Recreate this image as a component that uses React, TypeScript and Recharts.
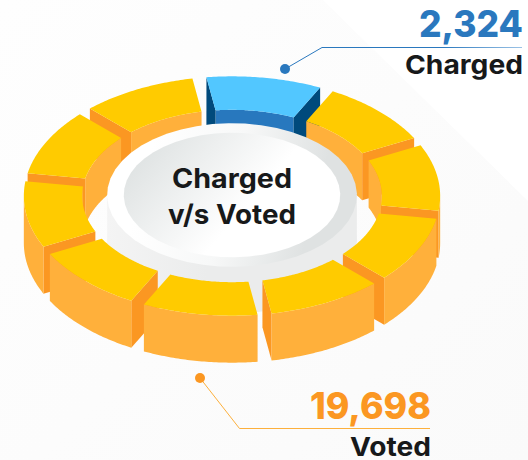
import React from 'react';
import { PieChart, Pie } from 'recharts';

// names and values of the ten blocks, clockwise from the top
const blockNames = ['Charged', 'Voted', 'Voted', 'Voted', 'Voted', 'Voted', 'Voted', 'Voted', 'Voted', 'Voted'];
const blockValues = [1, 1, 1, 1, 1, 1, 1, 1, 1, 1];
const totalNames = ['Charged', 'Voted'];
const totalValues = [2324, 19698];
const titleLines = ['Charged', 'v/s Voted'];

const blocks = blockNames.map((name, i) => ({ name, value: blockValues[i] }));
const backRight = blocks.slice(0, 3);
const frontRight = blocks.slice(3, 5);
const frontLeft = blocks.slice(5, 7).reverse();
const backLeft = blocks.slice(7).reverse();
const hub = [{ name: 'hub', value: 1 }];

const COLORS: Record<string, { top: string; wall: string; end: string; inner: string }> = {
  Charged: { top: '#52C7FF', wall: '#2878BE', end: '#004A7C', inner: '#2878BE' },
  Voted: { top: '#FFCB00', wall: '#FFB03B', end: '#FB9722', inner: '#FFB03B' },
};

// isometric axes: where "up" and "right" of the flat ring land on the page, per 100 of radius
const UP = [-32.6, -118.2];
const RIGHT = [205.6, -18.7];
const DEPTH = 47;
const GAP = 3.4;

const project = (cx: number, cy: number, r: number, phi: number) => {
  const c = Math.cos(phi) * r / 100;
  const s = Math.sin(phi) * r / 100;
  return [cx + UP[0] * c + RIGHT[0] * s, cy + UP[1] * c + RIGHT[1] * s];
};

const arc = (cx: number, cy: number, r: number, from: number, to: number) => {
  const pts = [];
  for (let i = 0; i <= 48; i++) pts.push(project(cx, cy, r, from + (to - from) * i / 48));
  return pts;
};

const toPath = (pts: number[][]) => 'M' + pts.map((p) => p[0].toFixed(2) + ' ' + p[1].toFixed(2)).join('L') + 'Z';

// wall below an edge, only the parts that run leftward face the viewer
const wallPath = (edge: number[][]) => {
  const seen = [];
  for (let i = 0; i < edge.length - 1; i++) {
    if (edge[i + 1][0] < edge[i][0]) {
      if (!seen.length) seen.push(edge[i]);
      seen.push(edge[i + 1]);
    }
  }
  if (seen.length < 2) return null;
  return toPath([...seen, ...seen.slice().reverse().map((p) => [p[0], p[1] + DEPTH])]);
};

const Block = (props: any) => {
  const { cx, cy, innerRadius, outerRadius, startAngle, endAngle } = props;
  const name = props.payload?.name ?? props.name;
  const colors = COLORS[name] ?? COLORS.Voted;
  const a = ((90 - Math.max(startAngle, endAngle)) * Math.PI) / 180;
  const b = ((90 - Math.min(startAngle, endAngle)) * Math.PI) / 180;
  const padOut = Math.asin(GAP / outerRadius);
  const padIn = Math.asin(GAP / innerRadius);
  const outer = arc(cx, cy, outerRadius, a + padOut, b - padOut);
  const inner = arc(cx, cy, innerRadius, b - padIn, a + padIn);
  const endB = [outer[outer.length - 1], inner[0]];
  const endA = [inner[inner.length - 1], outer[0]];
  const walls = [
    { d: wallPath(inner), fill: colors.inner },
    { d: wallPath(endA), fill: colors.end },
    { d: wallPath(endB), fill: colors.end },
    { d: wallPath(outer), fill: colors.wall },
  ];
  return (
    <g>
      {walls.map((w, i) => (w.d ? <path key={i} d={w.d} fill={w.fill} /> : null))}
      <path d={toPath([...outer, ...inner])} fill={colors.top} />
    </g>
  );
};

const Hub = (props: any) => {
  const { cx, cy, innerRadius, outerRadius } = props;
  const rim = arc(cx, cy, outerRadius, 0, Math.PI * 2);
  const face = arc(cx, cy, innerRadius, 0, Math.PI * 2);
  const xs = rim.map((p) => p[0]);
  const left = Math.min(...xs);
  const right = Math.max(...xs);
  return (
    <g>
      <defs>
        <linearGradient id="rimFill" x1="0" y1="0" x2="1" y2="0.15">
          <stop offset="0.2" stopColor="#ffffff" />
          <stop offset="0.55" stopColor="#f7f8f8" />
          <stop offset="0.9" stopColor="#dfe2e2" />
        </linearGradient>
        <linearGradient id="faceFill" x1="0" y1="0.1" x2="1" y2="0.6">
          <stop offset="0.05" stopColor="#dde1e1" />
          <stop offset="0.65" stopColor="#ffffff" />
        </linearGradient>
        <linearGradient id="wallFill" x1="0" y1="0" x2="1" y2="0">
          <stop offset="0" stopColor="#f4f4f4" />
          <stop offset="0.4" stopColor="#ebecec" />
          <stop offset="1" stopColor="#ebecec" />
        </linearGradient>
      </defs>
      <rect x={left} y={cy} width={right - left} height={DEPTH} fill="url(#wallFill)" />
      <path d={toPath(rim.map((p) => [p[0], p[1] + DEPTH]))} fill="url(#wallFill)" />
      <path d={toPath(rim)} fill="url(#rimFill)" />
      <path d={toPath(face)} fill="url(#faceFill)" />
      <text x={cx} y={188} textAnchor="middle" fontFamily="Inter" fontWeight={700} fontSize={27} fill="#17191a" textLength={120} lengthAdjust="spacingAndGlyphs">{titleLines[0]}</text>
      <text x={cx} y={224} textAnchor="middle" fontFamily="Inter" fontWeight={700} fontSize={27} fill="#17191a" textLength={128} lengthAdjust="spacingAndGlyphs">{titleLines[1]}</text>
    </g>
  );
};

const Total = ({ x, y, index, color, width, nameWidth }: any) => (
  <g fontFamily="Inter" textAnchor="end">
    <text x={x} y={y} fontWeight={800} fontSize={37} fill={color} textLength={width} lengthAdjust="spacingAndGlyphs">
      {totalValues[index].toLocaleString('en-US')}
    </text>
    <text x={x} y={y + 37} fontWeight={700} fontSize={26} fill="#17191a" textLength={nameWidth} lengthAdjust="spacingAndGlyphs">
      {totalNames[index]}
    </text>
  </g>
);

export default function App() {
  return (
    <div style={{ position: 'absolute', left: 0, top: 0, width: 528, height: 460, background: 'linear-gradient(135deg, #fefefe, #fafafa)', overflow: 'hidden' }}>
      <div style={{ position: 'absolute', inset: 0, background: '#ffffff', clipPath: 'polygon(323px 0, 528px 0, 528px 201px)' }} />
      <div style={{ position: 'absolute', left: 0, top: 0 }}>
        <PieChart width={528} height={460} margin={{ top: 0, right: 0, bottom: 0, left: 0 }}>
          <defs>
            <linearGradient id="blueLine" gradientUnits="userSpaceOnUse" x1="322" y1="47" x2="522" y2="47">
              <stop offset="0.6" stopColor="#2A78BE" />
              <stop offset="1" stopColor="#9CC3E6" />
            </linearGradient>
          </defs>
          <Pie data={backRight} dataKey="value" cx={232} cy={196} innerRadius={72} outerRadius={100} startAngle={90} endAngle={-18} stroke="none" shape={Block} isAnimationActive={false} />
          <Pie data={backLeft} dataKey="value" cx={232} cy={196} innerRadius={72} outerRadius={100} startAngle={90} endAngle={198} stroke="none" shape={Block} isAnimationActive={false} />
          <Pie data={hub} dataKey="value" cx={232} cy={195} innerRadius={52} outerRadius={60} startAngle={90} endAngle={-270} stroke="none" shape={Hub} isAnimationActive={false} />
          <Pie data={frontRight} dataKey="value" cx={232} cy={196} innerRadius={72} outerRadius={100} startAngle={-18} endAngle={-90} stroke="none" shape={Block} isAnimationActive={false} />
          <Pie data={frontLeft} dataKey="value" cx={232} cy={196} innerRadius={72} outerRadius={100} startAngle={198} endAngle={270} stroke="none" shape={Block} isAnimationActive={false} />
          <polyline points="285,69 322,47.5 522,47.5" fill="none" stroke="url(#blueLine)" strokeWidth={1} />
          <circle cx={285} cy={69} r={5} fill="#2A78BE" />
          <polyline points="200,378 239.5,428.5 430,428.5" fill="none" stroke="#FDB03C" strokeWidth={1} />
          <circle cx={200} cy={378} r={5} fill="#FB9722" />
          <Total x={523} y={37} index={0} color="#2A78BE" width={104} nameWidth={118} />
          <Total x={431} y={419} index={1} color="#FB9722" width={121} nameWidth={81} />
        </PieChart>
      </div>
    </div>
  );
}
